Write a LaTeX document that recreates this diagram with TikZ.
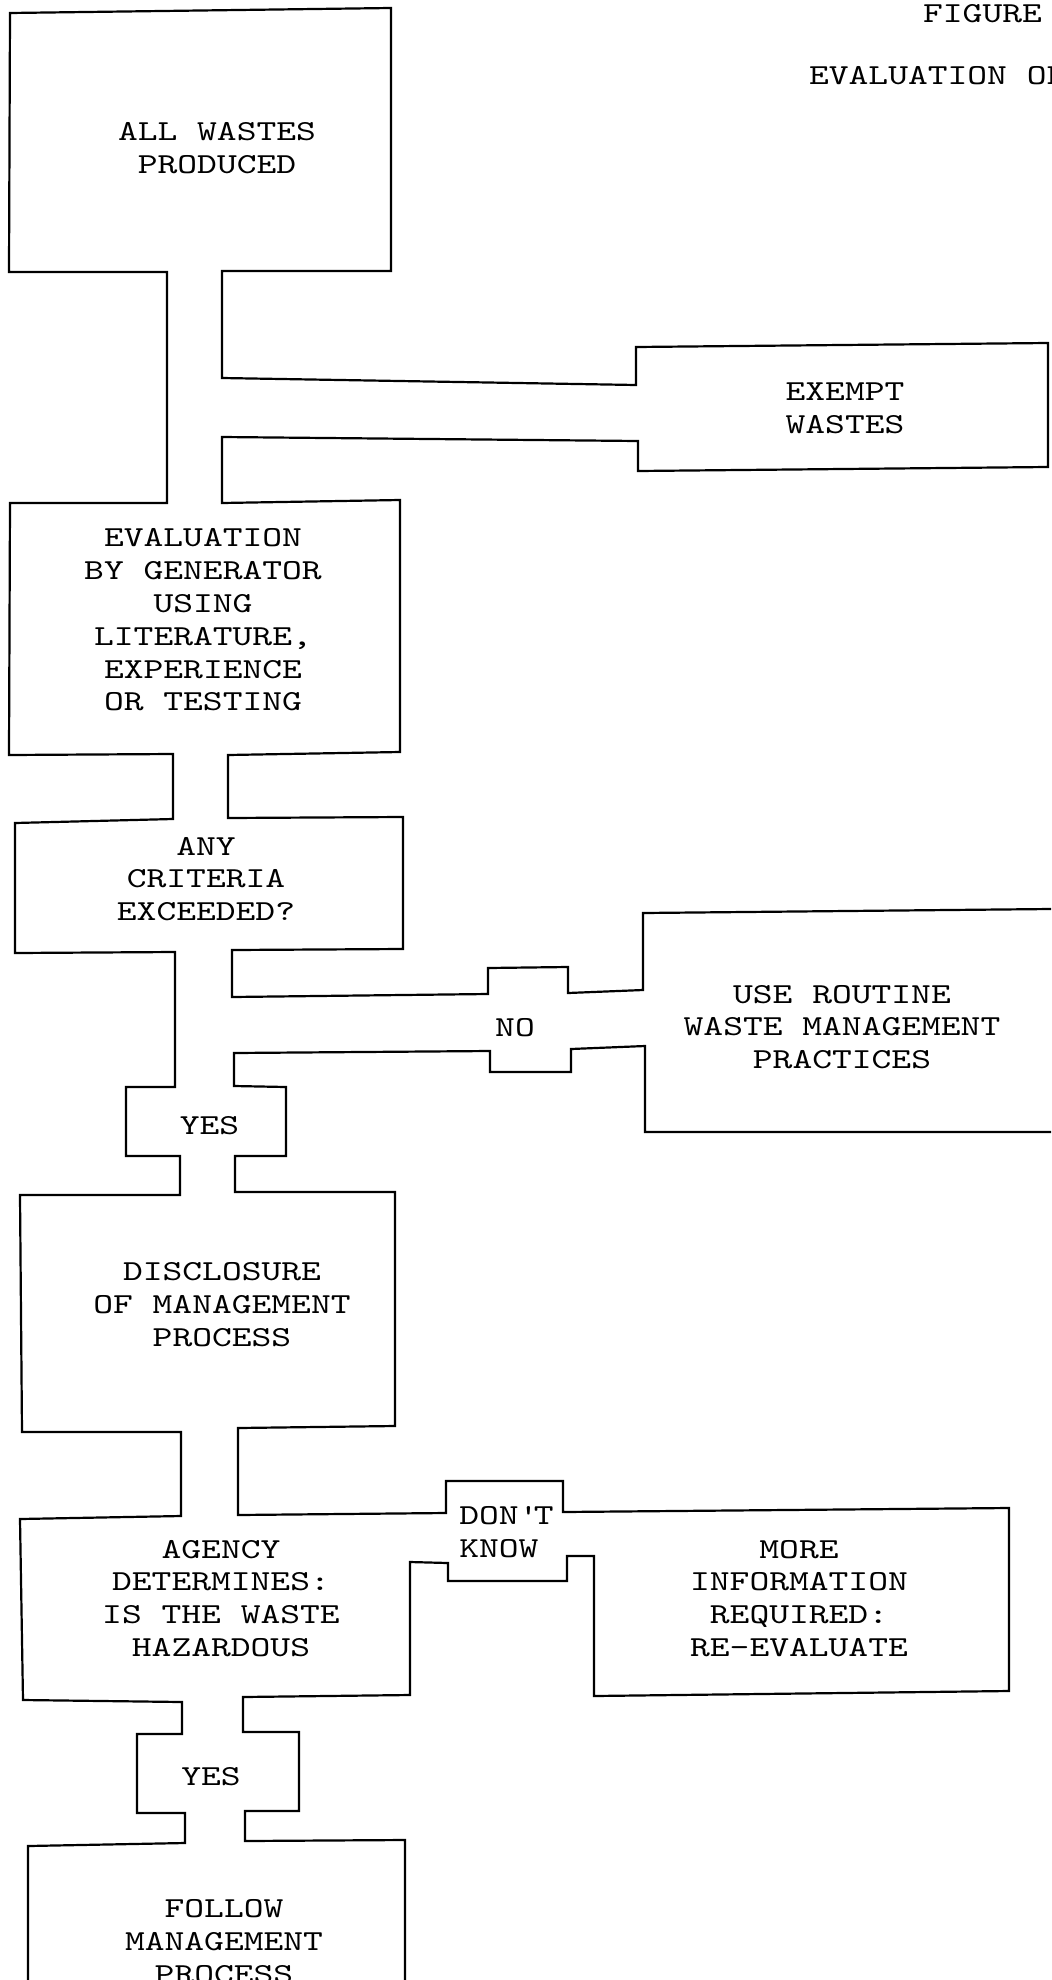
\documentclass[tikz,border=0pt]{standalone}
\usepackage{fontspec}
\newfontfamily\typewfont{lmmono10-regular.otf}[FakeStretch=1.3]
\usepackage{tikz}

\begin{document}
\begin{tikzpicture}[x=0.5pt, y=-0.5pt, line width=1.1pt,
		boxtext/.style={font=\typewfont\fontsize{14.5pt}{16.4pt}\selectfont, align=center, inner sep=0pt}]
		\useasboundingbox[fill=white] (0,0) rectangle (1051,1980);

		% Outer line: left walls, all boxes on top, channels to the right
		\draw (28,1980) -- (28,1846) -- (185,1843) -- (185,1813) -- (137,1813) -- (137,1734)
			-- (182,1734) -- (182,1702) -- (23,1700) -- (20,1519) -- (181,1516) -- (181,1432)
			-- (22,1432) -- (20,1195) -- (180,1195) -- (180,1156) -- (126,1156) -- (126,1087)
			-- (175,1087) -- (175,952) -- (15,953) -- (15,823) -- (173,819) -- (173,754)
			-- (9,755) -- (10,503) -- (167,503) -- (167,272) -- (9,272) -- (10,13)
			-- (391,8) -- (391,271) -- (222,271) -- (222,378) -- (636,385) -- (636,347)
			-- (1048,343) -- (1048,467) -- (638,471) -- (638,441) -- (222,437) -- (222,503)
			-- (400,500) -- (400,752) -- (228,755) -- (228,818) -- (403,817) -- (403,949)
			-- (232,950) -- (232,997) -- (488,994) -- (488,968) -- (568,967) -- (568,993)
			-- (643,990) -- (643,913) -- (1051,909);

		% Inner line: lower channels and boxes
		\draw (1051,1132) -- (645,1132) -- (645,1046) -- (571,1049) -- (571,1072) -- (490,1072)
			-- (490,1051) -- (234,1053) -- (234,1086) -- (286,1087) -- (286,1156) -- (235,1156)
			-- (235,1192) -- (395,1192) -- (395,1426) -- (238,1428) -- (238,1515) -- (446,1513)
			-- (446,1481) -- (563,1481) -- (563,1512) -- (1009,1508) -- (1009,1691) -- (594,1696)
			-- (594,1556) -- (567,1556) -- (567,1581) -- (448,1581) -- (448,1563) -- (410,1562)
			-- (410,1695) -- (243,1697) -- (243,1732) -- (299,1732) -- (299,1811) -- (245,1811)
			-- (245,1841) -- (405,1840) -- (405,1980);

		% Box texts
		\node[boxtext] (allwastes) at (217,148.5) {ALL WASTES\\PRODUCED};
		\node[boxtext] (exempt) at (845,408) {EXEMPT\\WASTES};
		\node[boxtext] (evaluation) at (203,620) {EVALUATION\\BY GENERATOR\\USING\\LITERATURE,\\EXPERIENCE\\OR TESTING};
		\node[boxtext] (criteria) at (206,879) {ANY\\CRITERIA\\EXCEEDED?};
		\node[boxtext] (no) at (515,1027.5) {NO};
		\node[boxtext] (routine) at (842,1027) {USE ROUTINE\\WASTE MANAGEMENT\\PRACTICES};
		\node[boxtext] (yesone) at (209.5,1125.5) {YES};
		\node[boxtext] (disclosure) at (222,1304.5) {DISCLOSURE\\OF MANAGEMENT\\PROCESS};
		\node[boxtext, align=left] (dontknow) at (506.5,1532.5) {DON\textquotesingle T\\KNOW};
		\node[boxtext] (agency) at (221,1598.5) {AGENCY\\DETERMINES:\\IS THE WASTE\\HAZARDOUS};
		\node[boxtext] (moreinfo) at (799,1598.5) {MORE\\INFORMATION\\REQUIRED:\\RE-EVALUATE};
		\node[boxtext] (yestwo) at (211,1776.5) {YES};
		\node[boxtext] (follow) at (224,1941.5) {FOLLOW\\MANAGEMENT\\PROCESS};

		% Heading
		\node[boxtext, anchor=base] (figure) at (982.5,23) {FIGURE};
		\node[boxtext, anchor=base west] (title) at (808,85) {EVALUATION OF};
	\end{tikzpicture}
\end{document}
